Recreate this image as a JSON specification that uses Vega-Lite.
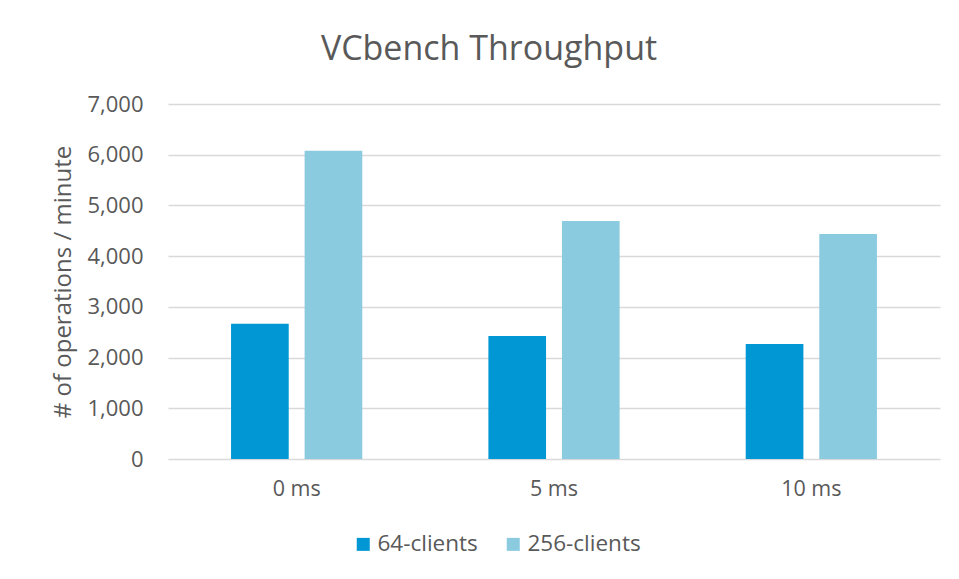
{
  "$schema": "https://vega.github.io/schema/vega-lite/v6.json",
  "width": 772,
  "height": 355,
  "autosize": {"type": "none"},
  "padding": {"left": 168, "top": 104, "right": 19, "bottom": 120},
  "background": "white",
  "title": {
    "text": "VCbench Throughput",
    "fontSize": 34,
    "font": "Open Sans",
    "fontWeight": "normal",
    "color": "#595959",
    "anchor": "middle",
    "dx": -65,
    "offset": 26
  },
  "config": {
    "view": {"stroke": null},
    "font": "Open Sans"
  },
  "data": {
    "values": [
      {"delay": "0 ms", "clients": "64-clients", "ops": 2665},
      {"delay": "0 ms", "clients": "256-clients", "ops": 6080},
      {"delay": "5 ms", "clients": "64-clients", "ops": 2423},
      {"delay": "5 ms", "clients": "256-clients", "ops": 4695},
      {"delay": "10 ms", "clients": "64-clients", "ops": 2266},
      {"delay": "10 ms", "clients": "256-clients", "ops": 4439}
    ]
  },
  "mark": {"type": "bar"},
  "encoding": {
    "x": {
      "field": "delay",
      "type": "nominal",
      "sort": ["0 ms", "5 ms", "10 ms"],
      "scale": {"paddingInner": 0.49, "paddingOuter": 0.245},
      "axis": {
        "title": null,
        "labelAngle": 0,
        "labelFontSize": 21.5,
        "labelColor": "#595959",
        "labelPadding": 19,
        "ticks": false,
        "domain": false
      }
    },
    "xOffset": {
      "field": "clients",
      "type": "nominal",
      "sort": ["64-clients", "256-clients"],
      "scale": {"paddingInner": 0.216, "paddingOuter": 0}
    },
    "y": {
      "field": "ops",
      "type": "quantitative",
      "scale": {"domain": [0, 7000]},
      "axis": {
        "title": "# of operations / minute",
        "titleFontSize": 24,
        "titleFontWeight": "normal",
        "titleColor": "#595959",
        "titlePadding": 11,
        "values": [0, 1000, 2000, 3000, 4000, 5000, 6000, 7000],
        "format": ",.0f",
        "labelFontSize": 22,
        "labelColor": "#595959",
        "labelPadding": 25,
        "ticks": false,
        "domain": false,
        "gridColor": "#D9D9D9",
        "gridWidth": 1.5
      }
    },
    "color": {
      "field": "clients",
      "type": "nominal",
      "sort": ["64-clients", "256-clients"],
      "scale": {"range": ["#0097D4", "#8BCBDF"]},
      "legend": {
        "title": null,
        "orient": "none",
        "direction": "horizontal",
        "legendX": 184,
        "legendY": 429,
        "symbolType": "square",
        "symbolSize": 169,
        "symbolStrokeWidth": 0,
        "symbolOpacity": 1,
        "labelFontSize": 22.5,
        "labelColor": "#595959",
        "labelOffset": 3,
        "columnPadding": 24
      }
    }
  }
}
